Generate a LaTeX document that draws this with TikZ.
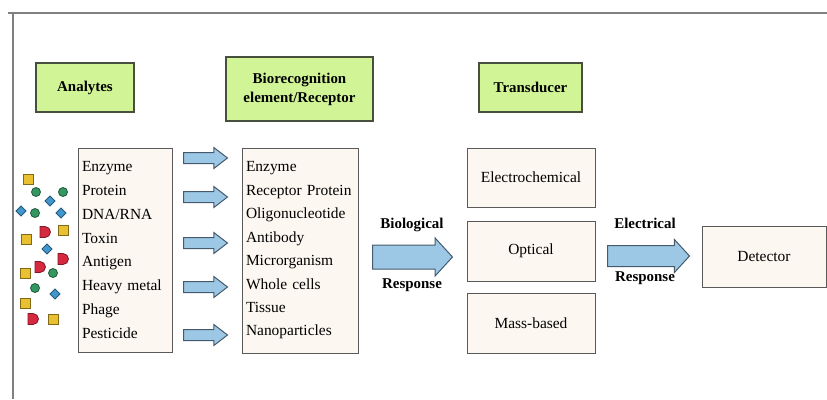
\documentclass[tikz,border=0pt]{standalone}
\usepackage{fontspec}
\setmainfont{Liberation Serif}
\usetikzlibrary{shapes.arrows,positioning}

\definecolor{headgreen}{RGB}{208,244,150}
\definecolor{headline}{RGB}{70,80,60}
\definecolor{boxfill}{RGB}{252,247,240}
\definecolor{boxline}{RGB}{90,90,90}
\definecolor{arrowblue}{RGB}{156,200,230}
\definecolor{arrowline}{RGB}{70,90,110}
\definecolor{molyellow}{RGB}{232,192,48}
\definecolor{molgreen}{RGB}{52,150,96}
\definecolor{molblue}{RGB}{64,150,205}
\definecolor{molred}{RGB}{214,40,62}

\begin{document}
\begin{tikzpicture}
    [x=1bp, y=-1bp,
    head/.style={draw=headline, fill=headgreen, line width=1.2bp, inner sep=0,
      align=center, font=\fontsize{15}{19}\selectfont\bfseries},
    listbox/.style={draw=boxline, fill=boxfill, line width=1bp, inner sep=4bp,
      align=left, font=\fontsize{15.5}{24}\selectfont},
    tbox/.style={draw=boxline, fill=boxfill, line width=1bp, inner sep=0,
      minimum width=128bp, minimum height=59bp, font=\fontsize{15.5}{18}\selectfont},
    blockarrow/.style={single arrow, draw=arrowline, fill=arrowblue, line width=1bp,
      inner xsep=0, single arrow tip angle=95, anchor=west},
    smallarrow/.style={blockarrow, minimum height=44bp, minimum width=20bp, inner ysep=5bp,
      single arrow head extend=5bp, single arrow tip angle=75},
    armlabel/.style={font=\fontsize{15}{17}\selectfont\bfseries},
    sqmol/.style={draw=molyellow!55!black, fill=molyellow, line width=0.8bp},
    circmol/.style={draw=molgreen!60!black, fill=molgreen, line width=0.8bp},
    diamol/.style={draw=molblue!60!black, fill=molblue, line width=0.8bp},
    dmol/.style={draw=molred!60!black, fill=molred, line width=0.8bp}]
    \useasboundingbox (0,0) rectangle (827,399);

    % frame
    \draw[gray, line width=1.5bp] (8,13) -- (827,13);
    \draw[gray, line width=1.5bp] (13,13) -- (13,399);

    % headings
    \node[head, minimum width=98bp, minimum height=49bp] (analytes) at (85,87.5) {Analytes};
    \node[head, minimum width=147bp, minimum height=64bp] (biorec) at (299.5,89)
      {Biorecognition\\element/Receptor};
    \node[head, minimum width=103bp, minimum height=49bp] (transducer) at (530.5,87.5) {Transducer};

    % analytes
    \foreach \x/\y in {28/179, 63/230, 26/239, 25/273, 25/303, 53/319}
      \draw[sqmol] (\x-5,\y-5) rectangle (\x+5,\y+5);
    \foreach \x/\y in {36/192, 63/192, 35/213, 53/273, 35/288}
      \draw[circmol] (\x,\y) circle (4.5);
    \foreach \x/\y in {50/201, 21/211, 61/213, 47/249, 55/294}
      \draw[diamol] (\x-5,\y) -- (\x,\y-5) -- (\x+5,\y) -- (\x,\y+5) -- cycle;
    \foreach \x/\y in {45/232, 63/259, 40/267, 33/319}
      \draw[dmol] (\x-5,\y+5.5) -- (\x-5,\y-5.5) -- (\x,\y-5.5)
        arc[start angle=-90, end angle=90, radius=5.5] -- cycle;

    \node[listbox, minimum width=94bp, minimum height=204bp, text width=86bp] (analist) at (125,250)
      {Enzyme\\Protein\\DNA/RNA\\Toxin\\Antigen\\Heavy metal\\Phage\\Pesticide};

    \foreach \y [count=\i] in {158,197,243,287,335}
      \node[smallarrow] (bind\i) at (183,\y) {};

    \node[listbox, minimum width=116bp, minimum height=205bp, text width=108bp,
      font=\fontsize{15.5}{23.5}\selectfont] (reclist) at (300,250.5)
      {Enzyme\\Receptor Protein\\Oligonucleotide\\Antibody\\Microrganism\\Whole cells\\Tissue\\Nanoparticles};

    % biological response
    \node[blockarrow, minimum height=80bp, minimum width=37bp, inner ysep=11.5bp,
      single arrow head extend=7bp] (bioresp) at (372,257) {};
    \node[armlabel] (biotop) at (412,225) {Biological};
    \node[armlabel] (biobot) at (412,285) {Response};

    % transducer
    \node[tbox] (electro) at (531,177.5) {Electrochemical};
    \node[tbox, minimum height=60bp] (optical) at (531,251) {Optical};
    \node[tbox, minimum height=60bp] (mass) at (531,323) {Mass-based};

    % electrical response
    \node[blockarrow, minimum height=82bp, minimum width=32bp, inner ysep=10bp,
      single arrow head extend=6bp] (elresp) at (607,256) {};
    \node[armlabel] (eltop) at (645,223) {Electrical};
    \node[armlabel] (elbot) at (645,278) {Response};

    \node[tbox, minimum width=124bp, minimum height=61bp] (detector) at (764,256.5) {Detector};
\end{tikzpicture}
\end{document}
